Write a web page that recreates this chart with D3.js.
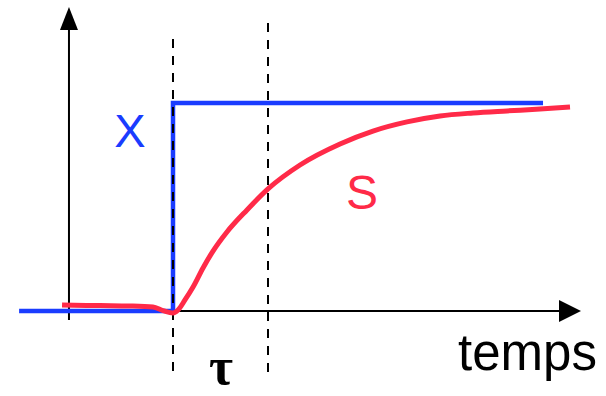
<!DOCTYPE html>
<html>
<head>
<meta charset="utf-8">
<script src="https://cdn.jsdelivr.net/npm/d3@7"></script>
<style>
  html, body { margin: 0; padding: 0; background: #fff; }
  svg { display: block; }
</style>
</head>
<body>
<script>
// ---- data (time in units of tau, value normalised 0..1) ----
const stepTimes  = [-1.62, 0, 0, 3.895];
const stepValues = [0, 0, 1, 1];

const respTimes  = [-1.168, -0.768, -0.453, -0.211, -0.105, 0, 0.053, 0.126, 0.211, 0.316, 0.421, 0.568, 0.779, 1.0, 1.337, 1.758, 2.105, 2.463, 2.811, 3.158, 3.516, 3.863, 4.179];
const respValues = [0.029, 0.026, 0.024, 0.019, 0.002, -0.010, 0.005, 0.053, 0.115, 0.207, 0.288, 0.380, 0.486, 0.587, 0.702, 0.803, 0.865, 0.909, 0.9375, 0.952, 0.962, 0.971, 0.981];

const markerTimes = [0, 1];          // dashed vertical lines: step instant and tau
const labels = { input: "X", output: "S", tau: "τ", time: "temps" };

// ---- layout ----
const W = 606, H = 396;
const svg = d3.select("body").append("svg").attr("width", W).attr("height", H);

const x = d3.scaleLinear().domain([0, 1]).range([173, 268]);
const y = d3.scaleLinear().domain([0, 1]).range([311, 103]);

const axisT = -1.095;   // time where vertical axis sits
const blue = "#1a3cff", red = "#ff2a48";

// axes
svg.append("line").attr("x1", x(axisT)).attr("x2", x(axisT)).attr("y1", 320).attr("y2", 28)
  .attr("stroke", "#000").attr("stroke-width", 2);
svg.append("path").attr("d", `M${x(axisT)},7 L${x(axisT)-9},30 L${x(axisT)+9},30 Z`).attr("fill", "#000");
svg.append("line").attr("x1", x(axisT)).attr("x2", 562).attr("y1", y(0)).attr("y2", y(0))
  .attr("stroke", "#000").attr("stroke-width", 2);
svg.append("path").attr("d", `M581,${y(0)} L559,${y(0)-11} L559,${y(0)+11} Z`).attr("fill", "#000");

// dashed markers
const dashTops = [39, 23];
markerTimes.forEach((t, i) => {
  svg.append("line").attr("x1", x(t)).attr("x2", x(t)).attr("y1", dashTops[i]).attr("y2", 374)
    .attr("stroke", "#000").attr("stroke-width", 2).attr("stroke-dasharray", "9,8");
});

// step input
const stepData = stepTimes.map((t, i) => [t, stepValues[i]]);
svg.append("path").datum(stepData)
  .attr("d", d3.line().x(d => x(d[0])).y(d => y(d[1])))
  .attr("fill", "none").attr("stroke", blue).attr("stroke-width", 4.5);

// redraw dashed marker at step over blue
svg.append("line").attr("x1", x(0)).attr("x2", x(0)).attr("y1", dashTops[0]).attr("y2", 374)
  .attr("stroke", "#000").attr("stroke-width", 2).attr("stroke-dasharray", "9,8");

// response
const respData = respTimes.map((t, i) => [t, respValues[i]]);
svg.append("path").datum(respData)
  .attr("d", d3.line().x(d => x(d[0])).y(d => y(d[1])).curve(d3.curveMonotoneX))
  .attr("fill", "none").attr("stroke", red).attr("stroke-width", 5).attr("stroke-linecap", "butt");

// labels
svg.append("text").attr("x", 130).attr("y", 147).attr("text-anchor", "middle")
  .attr("font-family", "Liberation Sans, Arial, sans-serif").attr("font-size", 47)
  .attr("fill", blue).text(labels.input);
svg.append("text").attr("x", 362).attr("y", 209).attr("text-anchor", "middle")
  .attr("font-family", "Liberation Sans, Arial, sans-serif").attr("font-size", 48)
  .attr("fill", red).text(labels.output);
svg.append("text").attr("x", 221).attr("y", 384).attr("text-anchor", "middle")
  .attr("font-family", "Liberation Serif, Times New Roman, serif").attr("font-size", 52)
  .attr("font-weight", "bold").attr("fill", "#000").text(labels.tau);
svg.append("text").attr("x", 458).attr("y", 370)
  .attr("font-family", "Liberation Sans, Arial, sans-serif").attr("font-size", 51)
  .attr("fill", "#000").text(labels.time);
</script>
</body>
</html>
